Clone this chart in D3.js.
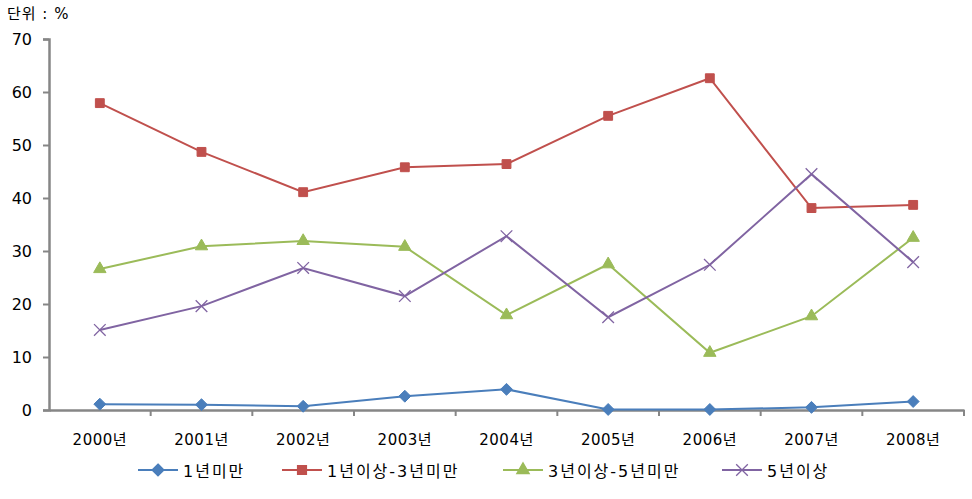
<!DOCTYPE html>
<html>
<head>
<meta charset="utf-8">
<script src="https://cdn.jsdelivr.net/npm/d3@7"></script>
<style>
  body { margin: 0; background: #fff; }
  text { font-family: "DejaVu Sans", "Noto Sans CJK KR", sans-serif; }
</style>
</head>
<body>
<div class="svg"></div>
<script>
//Data
var years = ["2000년", "2001년", "2002년", "2003년", "2004년", "2005년", "2006년", "2007년", "2008년"];
var yTicks = [0, 10, 20, 30, 40, 50, 60, 70];
var seriesNames = ["1년미만", "1년이상-3년미만", "3년이상-5년미만", "5년이상"];
var under1 = [1.1, 1.0, 0.7, 2.6, 3.9, 0.1, 0.1, 0.5, 1.6];
var from1to3 = [57.9, 48.7, 41.1, 45.8, 46.4, 55.5, 62.6, 38.1, 38.7];
var from3to5 = [26.6, 30.9, 31.9, 30.8, 17.9, 27.5, 10.8, 17.7, 32.5];
var over5 = [15.1, 19.6, 26.8, 21.5, 32.8, 17.5, 27.4, 44.5, 27.9];

//Config
var width = 972,
    height = 499,
    margin = { top : 39, bottom : 89, right : 8, left : 49 };

var styles = [
  { color : "#4a7ebb", shape : d3.symbolDiamond2, size : 90, values : under1 },
  { color : "#c0504d", shape : d3.symbolSquare2, size : 100, values : from1to3 },
  { color : "#9bbb59", shape : d3.symbolTriangle2, size : 110, values : from3to5 },
  { color : "#8064a2", shape : d3.symbolX, size : 90, values : over5 }
];

var svg = d3.select(".svg")
  .append("svg")
  .attr("width", width)
  .attr("height", height);

var x = d3.scaleBand()
  .domain(years)
  .range([margin.left, width - margin.right]);

var y = d3.scaleLinear()
  .domain([0, 70])
  .range([height - margin.bottom, margin.top]);

var axisColor = "#868686";

//Unit label
svg.append("text")
  .attr("x", 7)
  .attr("y", 19)
  .style("font-size", "15px")
  .style("letter-spacing", "1px")
  .style("fill", "#000")
  .text("단위 : %");

//Y axis
var yAxis = svg.append("g")
  .attr("transform", "translate(" + margin.left + ",0)")
  .call(d3.axisLeft(y).tickValues(yTicks).tickSize(6).tickPadding(11));
yAxis.select(".domain").attr("stroke", axisColor).attr("stroke-width", 2.5);
yAxis.selectAll(".tick line").attr("stroke", axisColor).attr("stroke-width", 2);
yAxis.selectAll(".tick text")
  .style("font-size", "16px")
  .style("font-family", "'DejaVu Sans', sans-serif")
  .style("fill", "#000");

//X axis
var xAxis = svg.append("g")
  .attr("transform", "translate(0," + y(0) + ")")
  .call(d3.axisBottom(x).tickSize(0).tickPadding(24));
xAxis.select(".domain").attr("stroke", axisColor).attr("stroke-width", 2.5);
xAxis.selectAll(".tick text")
  .style("font-size", "15px")
  .style("letter-spacing", "0.5px")
  .style("fill", "#000");

//Boundary ticks between categories
var bounds = years.map(function (d) { return x(d) + x.step(); });
xAxis.selectAll(".bound")
  .data(bounds)
  .enter()
  .append("line")
  .attr("x1", function (d) { return d; })
  .attr("x2", function (d) { return d; })
  .attr("y1", 0)
  .attr("y2", 6)
  .attr("stroke", axisColor)
  .attr("stroke-width", 2);

//Lines
var line = d3.line()
  .x(function (d, i) { return x(years[i]) + x.bandwidth() / 2; })
  .y(function (d) { return y(d); });

styles.forEach(function (s) {
  svg.append("path")
    .datum(s.values)
    .attr("d", line)
    .style("fill", "none")
    .style("stroke", s.color)
    .style("stroke-width", "2px");
});

//Markers
styles.forEach(function (s) {
  var sym = d3.symbol().type(s.shape).size(s.size);
  svg.selectAll(null)
    .data(s.values)
    .enter()
    .append("path")
    .attr("transform", function (d, i) {
      return "translate(" + (x(years[i]) + x.bandwidth() / 2) + "," + y(d) + ")";
    })
    .attr("d", sym())
    .style("fill", s.shape === d3.symbolX ? "none" : s.color)
    .style("stroke", s.color)
    .style("stroke-width", s.shape === d3.symbolX ? "1.3px" : "1px");
});

//Legend
var legendX = [138, 282, 503, 722];
var legend = svg.selectAll(".legend")
  .data(seriesNames)
  .enter()
  .append("g")
  .attr("class", "legend")
  .attr("transform", function (d, i) { return "translate(" + legendX[i] + ",470)"; });

legend.append("line")
  .attr("x1", 0)
  .attr("x2", 40)
  .style("stroke", function (d, i) { return styles[i].color; })
  .style("stroke-width", "2px");

legend.append("path")
  .attr("transform", "translate(20,0)")
  .attr("d", function (d, i) {
    return d3.symbol().type(styles[i].shape).size(styles[i].size)();
  })
  .style("fill", function (d, i) { return styles[i].shape === d3.symbolX ? "none" : styles[i].color; })
  .style("stroke", function (d, i) { return styles[i].color; })
  .style("stroke-width", "1.3px");

legend.append("text")
  .attr("x", 45)
  .attr("y", 7)
  .style("font-size", "16px")
  .style("letter-spacing", "2px")
  .style("fill", "#000")
  .text(function (d) { return d; });
</script>
</body>
</html>
